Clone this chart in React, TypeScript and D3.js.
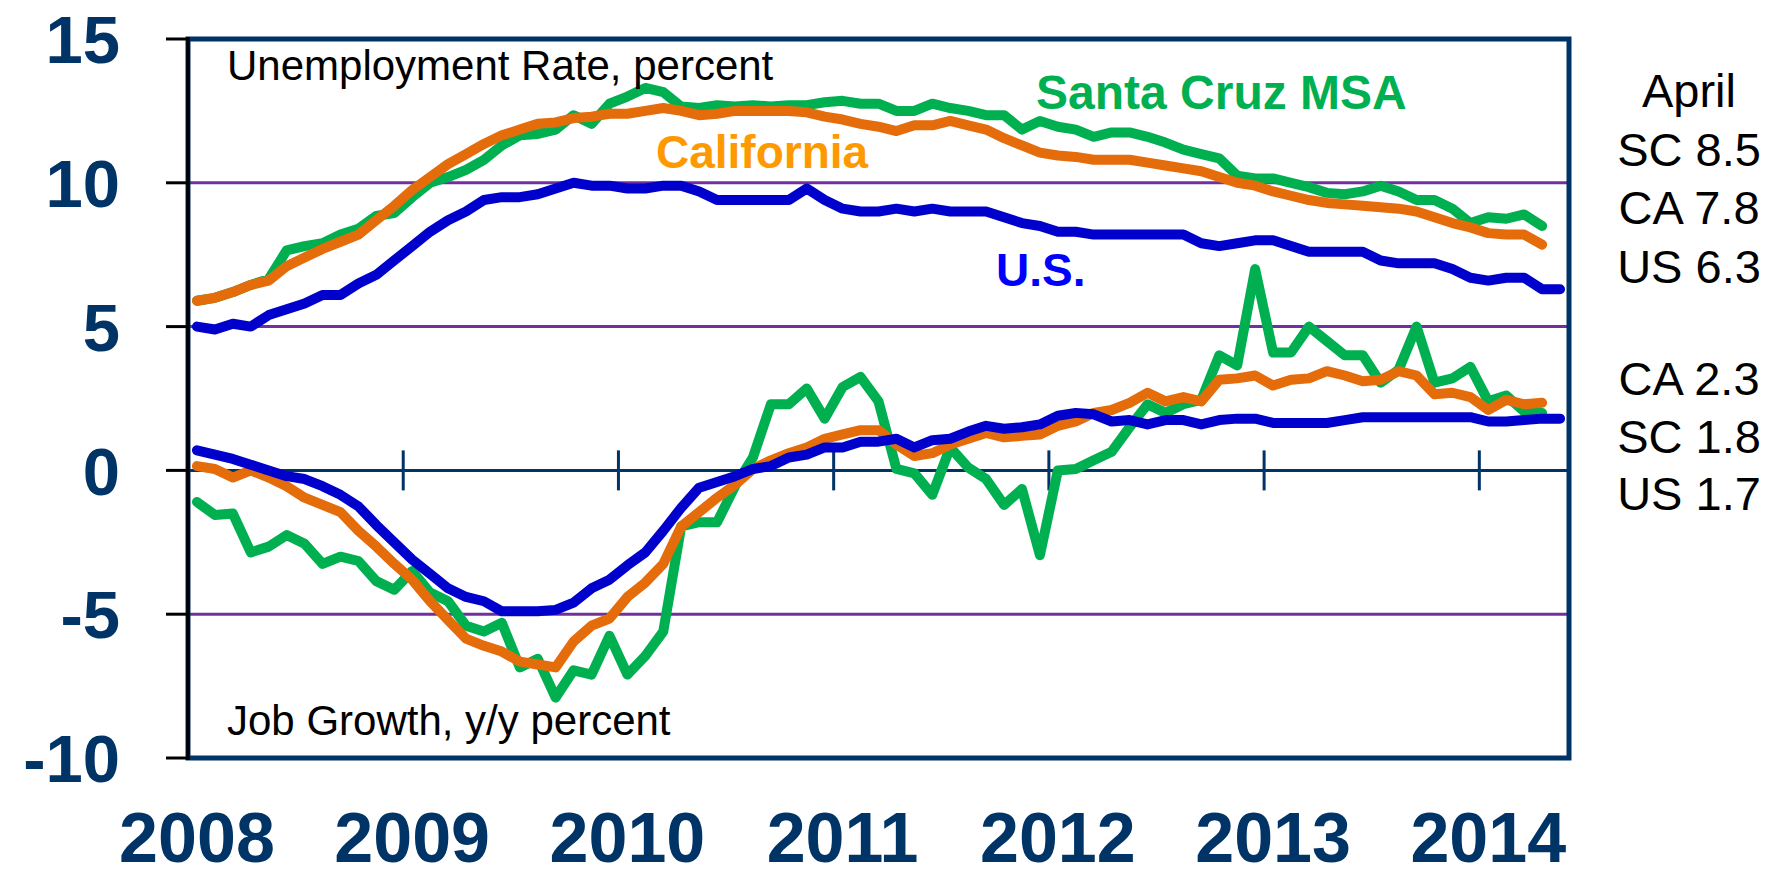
import * as d3 from "d3";
import React from "react";

// monthly categories, Jan 2008 - May 2014
const months = d3.timeMonth.range(new Date(2008, 0, 1), new Date(2014, 5, 1));
const years = ["2008", "2009", "2010", "2011", "2012", "2013", "2014"];
const yTicks = [-10, -5, 0, 5, 10, 15];
const gridValues = [-5, 5, 10];

// unemployment rate, percent
const scUnemp = [
  5.9, 6.0, 6.2, 6.45, 6.65, 7.65, 7.8, 7.9, 8.2, 8.4, 8.85, 8.95,
  9.5, 10.0, 10.2, 10.45, 10.8, 11.3, 11.65, 11.7, 11.85, 12.35, 12.05, 12.75,
  13.0, 13.3, 13.15, 12.65, 12.6, 12.7, 12.65, 12.7, 12.65, 12.7, 12.7, 12.8,
  12.85, 12.75, 12.75, 12.5, 12.5, 12.75, 12.6, 12.5, 12.35, 12.35, 11.85, 12.15,
  11.95, 11.85, 11.6, 11.75, 11.75, 11.6, 11.4, 11.15, 11.0, 10.85, 10.25, 10.15,
  10.15, 10.0, 9.85, 9.65, 9.6, 9.7, 9.9, 9.7, 9.4, 9.4, 9.1, 8.6,
  8.8, 8.75, 8.9, 8.5,
];
const caUnemp = [
  5.9, 6.0, 6.2, 6.45, 6.6, 7.1, 7.4, 7.7, 7.95, 8.2, 8.7, 9.2,
  9.75, 10.2, 10.65, 11.0, 11.35, 11.65, 11.85, 12.05, 12.1, 12.25, 12.3, 12.4,
  12.4, 12.5, 12.6, 12.5, 12.35, 12.4, 12.5, 12.5, 12.5, 12.5, 12.45, 12.3,
  12.2, 12.05, 11.95, 11.8, 12.0, 12.0, 12.15, 12.0, 11.85, 11.55, 11.3, 11.05,
  10.95, 10.9, 10.8, 10.8, 10.8, 10.7, 10.6, 10.5, 10.4, 10.2, 10.0, 9.9,
  9.7, 9.55, 9.4, 9.3, 9.25, 9.2, 9.15, 9.1, 9.0, 8.8, 8.6, 8.45,
  8.25, 8.2, 8.2, 7.85,
];
const usUnemp = [
  5.0, 4.9, 5.1, 5.0, 5.4, 5.6, 5.8, 6.1, 6.1, 6.5, 6.8, 7.3,
  7.8, 8.3, 8.7, 9.0, 9.4, 9.5, 9.5, 9.6, 9.8, 10.0, 9.9, 9.9,
  9.8, 9.8, 9.9, 9.9, 9.7, 9.4, 9.4, 9.4, 9.4, 9.4, 9.8, 9.4,
  9.1, 9.0, 9.0, 9.1, 9.0, 9.1, 9.0, 9.0, 9.0, 8.8, 8.6, 8.5,
  8.3, 8.3, 8.2, 8.2, 8.2, 8.2, 8.2, 8.2, 7.9, 7.8, 7.9, 8.0,
  8.0, 7.8, 7.6, 7.6, 7.6, 7.6, 7.3, 7.2, 7.2, 7.2, 7.0, 6.7,
  6.6, 6.7, 6.7, 6.3, 6.3,
];

// job growth, y/y percent
const scJobs = [
  -1.1, -1.55, -1.5, -2.85, -2.65, -2.25, -2.55, -3.25, -3.0, -3.15, -3.85, -4.15,
  -3.5, -4.25, -4.55, -5.4, -5.6, -5.3, -6.85, -6.55, -7.9, -6.95, -7.1, -5.75,
  -7.1, -6.45, -5.6, -1.95, -1.8, -1.8, -0.55, 0.45, 2.3, 2.3, 2.85, 1.8,
  2.9, 3.25, 2.4, 0.05, -0.1, -0.85, 0.8, 0.1, -0.3, -1.2, -0.65, -2.95,
  0.0, 0.05, 0.35, 0.65, 1.5, 2.3, 2.0, 2.3, 2.45, 4.0, 3.65, 7.0,
  4.1, 4.1, 5.0, 4.5, 4.0, 4.0, 3.05, 3.5, 5.0, 3.05, 3.2, 3.6,
  2.4, 2.6, 2.05, 2.0,
];
const caJobs = [
  0.15, 0.05, -0.25, 0.0, -0.25, -0.55, -0.95, -1.2, -1.45, -2.1, -2.65, -3.25,
  -3.8, -4.55, -5.2, -5.85, -6.1, -6.3, -6.65, -6.75, -6.85, -5.95, -5.4, -5.15,
  -4.4, -3.9, -3.25, -1.95, -1.45, -0.95, -0.5, 0.05, 0.35, 0.6, 0.8, 1.1,
  1.25, 1.4, 1.4, 0.9, 0.5, 0.6, 0.9, 1.1, 1.3, 1.15, 1.2, 1.25,
  1.55, 1.7, 2.0, 2.1, 2.35, 2.7, 2.4, 2.55, 2.4, 3.15, 3.2, 3.3,
  2.95, 3.15, 3.2, 3.45, 3.3, 3.1, 3.15, 3.45, 3.3, 2.65, 2.7, 2.55,
  2.1, 2.45, 2.3, 2.35,
];
const usJobs = [
  0.7, 0.55, 0.4, 0.2, 0.0, -0.2, -0.3, -0.55, -0.85, -1.25, -1.9, -2.5,
  -3.1, -3.6, -4.1, -4.4, -4.55, -4.9, -4.9, -4.9, -4.85, -4.6, -4.1, -3.8,
  -3.3, -2.85, -2.1, -1.3, -0.6, -0.4, -0.2, 0.05, 0.15, 0.45, 0.55, 0.8,
  0.8, 1.0, 1.0, 1.1, 0.8, 1.05, 1.1, 1.35, 1.55, 1.45, 1.5, 1.6,
  1.9, 2.0, 1.95, 1.7, 1.75, 1.6, 1.75, 1.75, 1.6, 1.75, 1.8, 1.8,
  1.65, 1.65, 1.65, 1.65, 1.75, 1.85, 1.85, 1.85, 1.85, 1.85, 1.85, 1.85,
  1.7, 1.7, 1.75, 1.8, 1.8,
];

const sideTop = ["April", "SC 8.5", "CA 7.8", "US 6.3"];
const sideBottom = ["CA 2.3", "SC 1.8", "US 1.7"];

const GREEN = "#00B050";
const ORANGE = "#E46C0A";
const BLUE = "#0000CC";
const NAVY = "#003366";
const PURPLE = "#7030A0";
const FONT = "'Liberation Sans', Arial, Helvetica, sans-serif";

const width = 1781;
const height = 876;
const plot = { left: 188, right: 1569, top: 39, bottom: 758 };

const App = () => {
  const x = d3
    .scaleBand<number>()
    .domain(months.map((_, i) => i))
    .range([plot.left, plot.right]);
  const y = d3.scaleLinear().domain([-10, 15]).range([plot.bottom, plot.top]);
  const cx = (i: number) => (x(i) as number) + x.bandwidth() / 2;

  const line = d3
    .line<number>()
    .x((_, i) => cx(i))
    .y((d) => y(d));

  const janIndex = (yr: string) =>
    months.findIndex((d) => d.getFullYear() === +yr && d.getMonth() === 0);

  const series = [
    { data: scUnemp, color: GREEN },
    { data: caUnemp, color: ORANGE },
    { data: usUnemp, color: BLUE },
    { data: scJobs, color: GREEN },
    { data: caJobs, color: ORANGE },
    { data: usJobs, color: BLUE },
  ];

  return (
    <svg
      width={width}
      height={height}
      style={{ position: "absolute", left: 0, top: 0, background: "#fff" }}
      fontFamily={FONT}
    >
      <rect width={width} height={height} fill="#fff" />

      {/* purple gridlines */}
      {gridValues.map((v) => (
        <line
          key={v}
          x1={plot.left}
          x2={plot.right}
          y1={y(v)}
          y2={y(v)}
          stroke={PURPLE}
          strokeWidth={3}
        />
      ))}

      {/* zero axis with year ticks */}
      <line
        x1={plot.left}
        x2={plot.right}
        y1={y(0)}
        y2={y(0)}
        stroke={NAVY}
        strokeWidth={3}
      />
      {years.slice(1).map((yr) => (
        <line
          key={yr}
          x1={x(janIndex(yr))}
          x2={x(janIndex(yr))}
          y1={y(0) - 20}
          y2={y(0) + 20}
          stroke={NAVY}
          strokeWidth={3}
        />
      ))}

      {/* plot frame */}
      <rect
        x={plot.left}
        y={plot.top}
        width={plot.right - plot.left}
        height={plot.bottom - plot.top}
        fill="none"
        stroke={NAVY}
        strokeWidth={5}
      />

      {/* lines */}
      {series.map((s, k) => (
        <path
          key={k}
          d={line(s.data) || ""}
          fill="none"
          stroke={s.color}
          strokeWidth={10}
          strokeLinejoin="round"
          strokeLinecap="round"
        />
      ))}

      {/* left axis */}
      <line
        x1={plot.left}
        x2={plot.left}
        y1={plot.top - 2}
        y2={plot.bottom + 2}
        stroke="#000"
        strokeWidth={3.5}
      />
      {yTicks.map((t) => (
        <g key={t}>
          <line
            x1={plot.left - 22}
            x2={plot.left}
            y1={y(t)}
            y2={y(t)}
            stroke="#000"
            strokeWidth={3}
          />
          <text
            x={120}
            y={y(t)}
            dy="0.36em"
            textAnchor="end"
            fontSize={67}
            fontWeight="bold"
            fill={NAVY}
          >
            {t}
          </text>
        </g>
      ))}

      {/* year labels */}
      {years.map((yr) => (
        <text
          key={yr}
          x={cx(janIndex(yr))}
          y={862}
          textAnchor="middle"
          fontSize={70}
          fontWeight="bold"
          fill={NAVY}
        >
          {yr}
        </text>
      ))}

      {/* panel titles */}
      <text x={227} y={80} fontSize={42} fill="#000">
        Unemployment Rate, percent
      </text>
      <text x={227} y={735} fontSize={42} fill="#000">
        Job Growth, y/y percent
      </text>

      {/* series labels */}
      <text x={1036} y={109} fontSize={48} fontWeight="bold" fill={GREEN}>
        Santa Cruz MSA
      </text>
      <text x={656} y={168} fontSize={46} fontWeight="bold" fill="#FF9900">
        California
      </text>
      <text x={996} y={286} fontSize={46} fontWeight="bold" fill="#0000FF">
        U.S.
      </text>

      {/* side notes */}
      {sideTop.map((s, i) => (
        <text
          key={s}
          x={1689}
          y={107 + i * 58.5}
          textAnchor="middle"
          fontSize={47}
          fill="#000"
        >
          {s}
        </text>
      ))}
      {sideBottom.map((s, i) => (
        <text
          key={s}
          x={1689}
          y={395 + i * 57.5}
          textAnchor="middle"
          fontSize={47}
          fill="#000"
        >
          {s}
        </text>
      ))}
    </svg>
  );
};

export default App;
